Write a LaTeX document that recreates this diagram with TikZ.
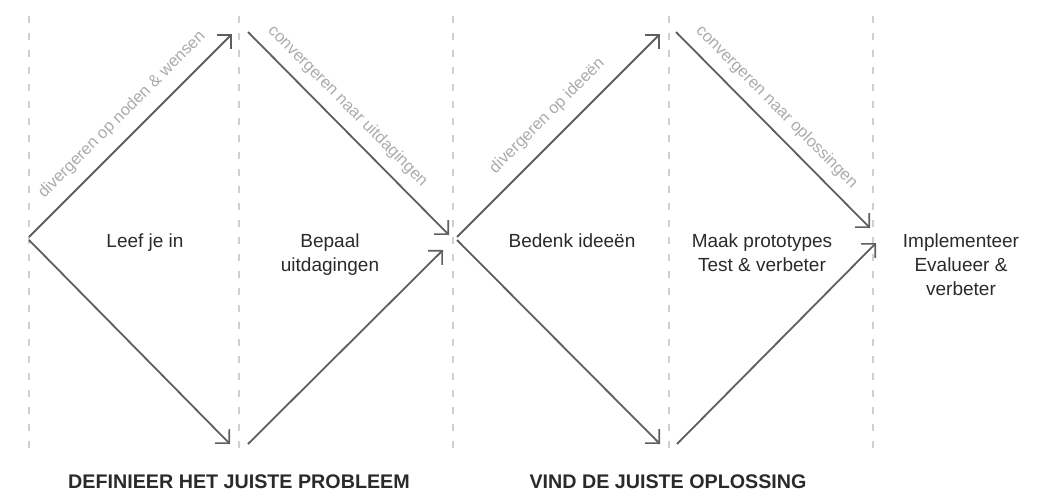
\documentclass[tikz,border=0pt]{standalone}
\usepackage{fontspec}
\setmainfont{Liberation Sans}
\usetikzlibrary{arrows.meta}
\definecolor{dashgray}{HTML}{CFCFCF}
\definecolor{linegray}{HTML}{5E5E5E}
\definecolor{lblgray}{HTML}{ABABAB}
\definecolor{txt}{HTML}{2A2A2A}
\begin{document}
\begin{tikzpicture}[x=1pt,y=-1pt,
  guide/.style={dashgray, line width=1.3pt, dash pattern=on 7pt off 10pt},
  flow/.style={linegray, line width=1.8pt, -{Straight Barb[angle=90:14pt, line width=1.6pt]}},
  phase/.style={lblgray, font=\fontsize{16.5}{19}\selectfont, sloped, inner sep=0pt},
  stage/.style={txt, font=\fontsize{19}{24}\selectfont, align=center, anchor=base, inner sep=0pt},
  title/.style={txt, font=\fontsize{19.7}{23}\selectfont\bfseries, anchor=base, inner sep=0pt}]
\useasboundingbox (0,0) rectangle (1052,493);
\foreach \x/\n in {29/g1,239/g2,453/g3,669/g4,873/g5} {
  \coordinate (\n t) at (\x,16);
  \coordinate (\n b) at (\x,452);
  \draw[guide] (\n t) -- (\n b);
}
% first diamond
\coordinate (s1) at (29,237);
\coordinate (t1) at (232,34);
\coordinate (s1b) at (29,240);
\coordinate (b1) at (230,444);
\coordinate (t2) at (248,32);
\coordinate (m1) at (449,235);
\coordinate (b2) at (248,444);
\coordinate (m1b) at (443,250);
% second diamond
\coordinate (s2) at (457,237);
\coordinate (t3) at (660,34);
\coordinate (s2b) at (457,240);
\coordinate (b3) at (660,444);
\coordinate (t4) at (676,32);
\coordinate (m2) at (870,228);
\coordinate (b4) at (677,444);
\coordinate (m2b) at (876,243);

\draw[flow] (s1) -- node[phase, pos=0.53, above=12pt] (l1) {divergeren op noden \& wensen} (t1);
\draw[flow] (s1b) -- (b1);
\draw[flow] (t2) -- node[phase, pos=0.43, above=10pt] (l2) {convergeren naar uitdagingen} (m1);
\draw[flow] (b2) -- (m1b);

\draw[flow] (s2) -- node[phase, pos=0.52, above=13pt] (l3) {divergeren op ideeën} (t3);
\draw[flow] (s2b) -- (b3);
\draw[flow] (t4) -- node[phase, pos=0.45, above=10pt] (l4) {convergeren naar oplossingen} (m2);
\draw[flow] (b4) -- (m2b);

% base anchor of a multi-line node is the baseline of its last line
\node[stage] (n1) at (145,247) {Leef je in};
\node[stage] (n2) at (330,271) {Bepaal\\uitdagingen};
\node[stage] (n3) at (572,247) {Bedenk ideeën};
\node[stage] (n4) at (762,271) {Maak prototypes\\Test \& verbeter};
\node[stage] (n5) at (961,295) {Implementeer\\Evalueer \&\\verbeter};

\node[title] (h1) at (239,488) {DEFINIEER HET JUISTE PROBLEEM};
\node[title] (h2) at (668,488) {VIND DE JUISTE OPLOSSING};
\end{tikzpicture}
\end{document}
